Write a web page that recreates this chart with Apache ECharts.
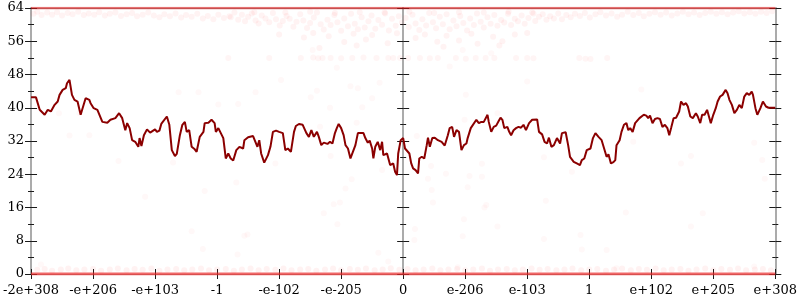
<!DOCTYPE html>
<html><head><meta charset="utf-8">
<script src="https://cdn.jsdelivr.net/npm/echarts@6/dist/echarts.min.js"></script>
<style>html,body{margin:0;padding:0;background:#fff}#c{width:800px;height:300px}</style>
</head><body><div id="c"></div>
<script>
const tickLabels = ['-2e+308','-e+206','-e+103','-1','-e-102','-e-205','0','e-206','e-103','1','e+102','e+205','e+308'];
const yTicks = [0, 8, 16, 24, 32, 40, 48, 56, 64];

const lineX = [-6.00,-5.92,-5.86,-5.78,-5.73,-5.68,-5.62,-5.57,-5.54,-5.49,-5.44,-5.42,-5.38,-5.34,-5.30,-5.25,-5.20,-5.16,-5.12,-5.06,-5.04,-4.99,-4.93,-4.85,-4.77,-4.72,-4.64,-4.58,-4.53,-4.48,-4.45,-4.41,-4.37,-4.32,-4.27,-4.25,-4.22,-4.18,-4.13,-4.08,-4.00,-3.97,-3.93,-3.90,-3.81,-3.77,-3.73,-3.68,-3.65,-3.60,-3.56,-3.52,-3.49,-3.45,-3.41,-3.36,-3.33,-3.28,-3.22,-3.20,-3.14,-3.09,-3.04,-3.02,-2.98,
-2.90,-2.86,-2.82,-2.78,-2.74,-2.69,-2.64,-2.58,-2.56,-2.50,-2.42,-2.40,-2.35,-2.32,-2.29,-2.24,-2.18,-2.14,-2.10,-2.05,-2.00,-1.94,-1.90,-1.86,-1.81,-1.76,-1.73,-1.68,-1.62,-1.60,-1.56,-1.52,-1.48,-1.44,-1.39,-1.36,-1.32,-1.28,-1.22,-1.18,-1.14,-1.10,-1.07,-1.04,-1.00,-0.96,-0.93,-0.89,-0.85,-0.80,-0.77,-0.73,-0.70,-0.64,-0.61,-0.57,-0.54,-0.50,-0.48,-0.45,-0.41,-0.37,-0.34,-0.32,-0.26,-0.21,-0.16,-0.13,-0.10,-0.08,-0.04,0.00,
0.03,0.06,0.10,0.13,0.16,0.20,0.24,0.26,0.30,0.34,0.38,0.40,0.43,0.47,0.51,0.56,0.62,0.67,0.72,0.75,0.79,0.82,0.86,0.90,0.94,0.98,1.02,1.04,1.09,1.12,1.18,1.22,1.26,1.30,1.36,1.38,1.42,1.46,1.50,1.54,1.57,1.60,1.63,1.68,1.71,1.74,1.78,1.82,1.86,1.90,1.94,1.98,2.03,2.08,2.16,2.19,2.24,2.28,2.32,2.35,2.39,2.43,2.48,2.53,2.56,2.62,2.66,2.69,2.72,2.75,2.80,2.85,2.88,2.92,
2.96,3.02,3.06,3.10,3.15,3.20,3.24,3.28,3.31,3.35,3.39,3.42,3.44,3.49,3.52,3.56,3.60,3.63,3.66,3.70,3.74,3.77,3.81,3.84,3.88,3.92,3.95,3.98,4.02,4.06,4.10,4.14,4.18,4.22,4.26,4.29,4.32,4.36,4.40,4.45,4.48,4.52,4.56,4.59,4.63,4.67,4.72,4.75,4.79,4.82,4.86,4.90,4.93,4.96,5.00,5.04,5.07,5.11,5.15,5.20,5.23,5.26,5.30,5.34,5.38,5.42,5.46,5.50,5.54,5.58,5.62,5.64,5.68,5.71,5.74,5.76,5.80,5.85,5.89,6.00];
const lineY = [42.5,42.5,39.5,38.3,39.5,39.1,40.7,41.5,43.1,44.3,44.7,45.9,46.7,43.1,41.9,41.5,38.3,40.3,42.3,41.9,41.1,39.9,39.5,36.6,36.4,37.1,37.5,38.7,37.5,34.6,36.3,35.1,32.2,31.8,30.6,32.7,30.8,33.4,34.8,34.0,34.8,34.2,34.5,36.1,37.9,35.9,29.8,28.4,28.9,33.4,35.9,36.6,34.2,34.6,30.6,30.0,29.4,33.0,34.2,36.3,36.4,37.1,36.3,34.2,35.1,
32.7,27.8,29.0,27.8,27.3,29.8,30.6,30.2,32.2,32.9,33.2,33.4,30.6,32.2,29.0,26.8,28.6,30.6,34.2,34.5,34.2,33.9,29.8,30.2,29.4,34.2,35.6,36.1,35.9,36.1,33.9,33.0,34.6,33.0,34.2,33.0,31.0,31.6,31.3,31.8,31.4,33.9,35.1,36.1,35.1,33.4,31.0,30.2,27.8,29.8,31.0,33.9,34.2,33.9,32.7,31.6,32.1,30.2,27.8,30.6,31.8,29.8,31.8,28.6,29.0,26.2,26.6,24.6,23.8,29.0,32.2,32.7,
30.2,30.6,29.0,26.6,25.4,25.0,24.2,27.8,28.2,27.8,31.0,32.8,30.6,32.7,32.8,32.2,31.8,30.9,33.4,35.1,35.4,33.0,34.6,34.2,29.8,31.0,31.4,32.7,35.1,35.4,37.1,36.3,36.6,36.6,38.3,36.6,34.2,35.4,35.7,36.8,37.6,37.1,35.1,35.4,34.2,33.4,34.6,35.1,35.4,35.2,35.9,34.6,36.3,37.1,37.2,34.2,33.6,31.8,31.4,32.8,30.6,31.0,32.7,31.4,33.9,34.1,31.0,28.2,28.2,27.0,26.6,26.2,27.4,27.8,
29.8,30.2,32.7,33.9,33.0,32.2,30.2,28.2,28.8,26.6,26.9,27.4,31.0,32.2,34.2,35.9,36.3,34.6,35.1,34.2,36.3,36.6,37.5,37.9,38.3,38.1,37.5,38.1,36.3,37.3,37.5,37.3,35.4,35.9,35.1,33.4,35.1,37.5,37.6,39.1,41.5,40.7,41.1,40.3,37.9,37.5,38.7,37.9,36.3,38.3,38.3,39.5,37.9,36.3,38.3,39.9,41.5,42.7,43.1,44.3,43.5,41.9,40.7,38.7,39.5,40.7,39.9,42.7,43.5,43.1,43.9,43.1,39.9,38.3,38.7,39.9,41.5,40.3,40.0,40.0];

const bandX = [-6, 6];
const bandTopY = [64, 64];
const bandBottomY = [0, 0];

const hazeTop = [
[-5.96,62.6],[-5.9,63.1],[-5.83,62.3],[-5.74,62.9],[-5.66,62.4],[-5.58,63.0],[-5.5,62.2],[-5.41,62.8],[-5.33,62.5],[-5.24,63.1],[-5.15,62.3],[-5.07,62.7],[-4.98,62.4],[-4.9,63.0],[-4.81,62.2],[-4.73,62.6],[-4.64,62.9],[-4.55,62.1],[-4.46,62.5],[-4.37,62.8],[-4.29,62.0],[-4.2,62.4],[-4.11,62.9],[-4.02,62.2],[-3.93,61.8],[-3.85,62.5],[-3.76,62.0],[-3.67,62.7],[-3.58,61.7],[-3.5,62.3],[-3.41,61.9],[-3.32,62.6],[-3.23,61.5],[-3.15,62.1],[-3.06,61.3],[-2.98,62.4],[-2.89,61.6],[-2.8,62.0],
[-2.78,61.8],[-2.72,62.9],[-2.66,61.2],[-2.6,62.4],[-2.55,60.8],[-2.5,61.9],[-2.44,62.7],[-2.38,61.0],[-2.33,60.3],[-2.28,62.2],[-2.22,61.5],[-2.16,60.6],[-2.1,62.8],[-2.05,61.3],[-1.99,59.8],[-1.94,60.9],[-1.88,62.1],[-1.83,61.4],[-1.77,59.5],[-1.72,60.7],[-1.66,62.5],[-1.61,61.0],[-1.55,59.2],[-1.5,60.4],[-1.44,61.7],[-1.39,62.9],[-1.33,60.1],[-1.28,58.8],[-1.22,61.2],[-1.17,59.9],[-1.11,62.3],[-1.06,60.6],[-1.0,58.5],[-0.95,61.5],[-0.89,59.6],[-0.84,62.6],[-0.78,60.2],[-0.73,58.9],[-0.67,61.8],[-0.62,59.3],[-0.56,60.8],[-0.51,62.2],[-0.45,59.0],[-0.4,61.1],[-0.34,60.0],[-0.29,62.7],[-0.23,58.6],[-0.18,61.4],[-0.12,59.7],[-0.07,62.0],[-0.02,60.5],
[0.04,61.6],[0.09,59.4],[0.15,62.4],[0.2,60.3],[0.26,58.7],[0.31,61.3],[0.37,59.8],[0.42,62.8],[0.48,60.6],[0.53,59.1],[0.59,61.9],[0.64,60.1],[0.7,62.5],[0.75,58.9],[0.81,61.0],[0.86,59.6],[0.92,62.1],[0.97,60.4],[1.03,58.6],[1.08,61.5],[1.14,59.9],[1.19,62.7],[1.25,60.7],[1.3,59.3],[1.36,61.8],[1.41,60.2],[1.47,62.3],[1.52,59.7],[1.58,61.1],[1.63,60.5],[1.69,62.6],[1.74,59.9],[1.8,61.4],[1.85,60.8],[1.91,62.2],[1.96,60.2],[2.02,61.6],[2.08,62.9],[2.13,60.9],[2.19,61.9],[2.25,62.5],[2.31,61.2],[2.37,62.0],[2.43,61.5],[2.5,62.7],[2.56,61.3],[2.63,62.3],[2.7,61.8],[2.77,62.6],
[-2.4,63.0],[-1.9,62.9],[-1.5,63.1],[-1.1,62.8],[-0.7,63.0],[-0.3,62.9],[0.1,63.1],[0.5,62.8],[0.9,63.0],[1.3,62.9],[1.7,63.1],[2.1,62.7],
[-2.0,57.6],[-1.6,56.9],[-1.45,58.0],[-1.2,57.2],[-0.95,55.8],[-0.8,57.8],[-0.6,56.4],[-0.5,57.5],[-0.25,55.5],[-0.1,57.9],[0.2,56.8],[0.35,57.6],[0.55,55.9],[0.7,57.3],[0.9,56.2],[1.1,57.8],[1.2,55.4],[1.45,57.1],[1.6,56.0],[1.8,57.6],[2.0,58.0],[-1.35,54.4],[0.65,54.7],[1.55,55.0],[-0.75,55.0],
[2.85,62.1],[2.93,62.8],[3.01,61.7],[3.1,62.5],[3.18,63.0],[3.27,62.2],[3.36,62.7],[3.45,61.9],[3.53,62.4],[3.62,63.1],[3.71,62.3],[3.8,62.8],[3.88,62.0],[3.97,62.6],[4.06,63.0],[4.15,62.4],[4.24,62.9],[4.33,62.2],[4.42,62.7],[4.51,63.1],[4.6,62.5],[4.69,62.9],[4.78,62.3],[4.87,62.8],[4.96,63.1],[5.05,62.6],[5.14,63.0],[5.23,62.5],[5.32,62.9],[5.41,63.2],[5.5,62.7],[5.59,63.0],[5.68,62.6],[5.77,63.1],[5.86,62.8],[5.95,63.2]
];

const row52 = [[-2.82,52.0],[-2.16,52.0],[-1.65,52.0],[-1.45,52.1],[-1.37,51.9],[-1.3,52.0],[-1.17,52.0],[-1.0,51.9],[-0.82,52.0],[-0.64,52.1],[-0.43,52.0],[-0.24,52.0],[-0.16,52.0],[-0.05,52.0],[0.08,52.0],[0.27,52.0],[0.43,51.9],[0.56,52.0],[0.85,52.0],[1.01,51.8],[1.17,52.0],[1.33,52.0],[1.47,52.0],[1.82,52.0],[2.0,52.0],[2.1,51.9],[2.84,52.0],[2.94,51.8],[3.02,51.7],[3.29,52.0]];

const hazeBottom = [[-5.9,1.0],[-5.78,1.2],[-5.66,0.8],[-5.52,1.1],[-5.4,1.3],[-5.27,0.9],[-5.14,1.1],[-5.0,1.2],[-4.87,0.8],[-4.73,1.1],[-4.6,1.3],[-4.46,0.9],[-4.33,1.2],[-4.2,1.0],[-4.06,1.3],[-3.93,0.8],[-3.8,1.1],[-3.66,1.2],[-3.53,0.9],[-3.4,1.1],[-3.26,1.3],[-3.13,0.9],[-3.0,1.1],[-2.86,1.2],[-2.73,0.8],[-2.6,1.1],[-2.46,1.3],[-2.33,0.9],[-2.2,1.2],[-2.06,1.0],[-1.93,1.3],[-1.8,0.9],[-1.66,1.1],[-1.53,1.2],[-1.4,0.8],[-1.26,1.1],[-1.13,1.3],[-1.0,0.9],[-0.86,1.2],[-0.73,1.0],[-0.6,1.3],[-0.46,0.9],[-0.33,1.1],[-0.2,1.4],[-0.06,1.0],[0.07,1.2],[0.2,0.9],[0.33,1.1],[0.47,1.3],[0.6,0.9],[0.73,1.1],[0.87,1.2],[1.0,0.9],[1.13,1.1],[1.27,1.3],[1.4,0.8],[1.53,1.1],[1.67,1.2],[1.8,0.9],[1.93,1.1],[2.07,1.3],[2.2,1.0],[2.33,1.2],[2.47,0.9],[2.6,1.1],[2.73,1.3],[2.87,0.9],[3.0,1.1],[3.13,1.2],[3.27,0.8],[3.4,1.1],[3.53,1.3],[3.67,0.9],[3.8,1.2],[3.93,1.0],[4.07,1.3],[4.2,0.9],[4.33,1.1],[4.47,1.2],[4.6,0.8],[4.73,1.1],[4.87,1.3],[5.0,0.9],[5.13,1.2],[5.27,1.0],[5.4,1.3],[5.53,0.9],[5.67,1.1],[5.8,1.2],[5.93,0.9]];

const strayPoints = [[-3.30,43.7],[-2.38,43.7],[-2.66,40.9],[-5.22,38.7],[-5.06,33.4],[-4.59,27.2],[-3.71,26.8],[-2.69,22.0],[-3.20,20.0],[-4.16,18.6],[-3.41,10.3],[-2.51,9.5],[-2.56,9.2],[-3.23,6.0],[-2.67,4.7],[-5.84,2.3],[-2.06,26.6],[-1.17,28.4],[-0.83,22.8],[-0.93,20.6],[-1.02,17.2],[-1.12,16.8],[-1.28,14.6],[-1.06,12.0],[-0.40,5.1],[-0.24,3.0],[0.19,10.8],[0.18,8.2],[0.45,26.0],[0.69,24.1],[1.07,23.6],[1.04,20.9],[0.48,17.2],[0.46,20.2],[1.27,26.5],[1.34,16.6],[1.31,16.0],[0.98,13.2],[0.96,9.1],[1.52,11.4],[0.88,1.6],[2.27,28.1],[2.72,24.6],[2.30,17.6],[2.27,8.4],[2.86,9.4],[2.88,5.9],[3.28,5.8],[3.59,14.8],[4.64,28.4],[4.48,26.6],[4.83,14.6],[4.64,11.4],[5.79,27.4],[5.83,22.9],[5.66,1.8],[3.44,1.4],[-1.97,46.7],[-1.46,53.9],[-1.49,42.5],[-1.39,44.1],[-1.18,40.0],[-1.34,35.4],[-0.85,45.2],[-0.73,44.7],[-0.75,36.4],[-0.38,46.0],[-0.50,42.3],[-1.07,49.6],[0.75,49.9],[0.96,53.9],[1.01,43.1],[2.00,46.3],[1.42,53.1],[3.84,44.4],[5.66,31.6],[3.71,31.8],[-3.62,43.7],[-2.98,40.8],[-5.55,38.7],[-5.38,33.3],[-0.66,40.1],[-0.34,25.0],[0.99,37.1],[0.22,33.2],[0.40,22.9],[1.27,23.4],[1.52,38.7]];

const FONT = 'DejaVu Serif';
const AXIS_GRAY = '#ababab';
const TICK = '#1a1a1a';

function yAxisDef(opts) {
  return Object.assign({
    type: 'value', min: 0, max: 64, interval: 8,
    splitLine: { show: false },
    axisLine: { show: false, onZero: false },
    axisTick: { show: true, length: 6, lineStyle: { color: TICK, width: 1 } },
    minorTick: { show: true, splitNumber: 2, length: 3, lineStyle: { color: TICK, width: 1 } },
    axisLabel: { show: false }
  }, opts);
}

const grayLine = { show: true, lineStyle: { color: AXIS_GRAY, width: 2 } };

const chart = echarts.init(document.getElementById('c'), null, { renderer: 'canvas' });
const xBase = { type: 'value', min: -6, max: 6, interval: 1, splitLine: { show: false } };

chart.setOption({
  animation: false,
  backgroundColor: '#fff',
  grid: { left: 28, right: 22, top: 8, bottom: 26, containLabel: false },
  xAxis: [
    Object.assign({}, xBase, {
      position: 'bottom',
      axisLine: { show: true, onZero: false, lineStyle: { color: AXIS_GRAY, width: 1 } },
      axisTick: { show: true, length: 5, lineStyle: { color: TICK, width: 1 } },
      axisLabel: {
        show: true, margin: 10, fontFamily: FONT, fontSize: 13, color: '#000',
        showMinLabel: true, showMaxLabel: true, hideOverlap: false,
        formatter: v => tickLabels[Math.round(v) + 6]
      }
    }),
    Object.assign({}, xBase, {
      position: 'bottom',
      axisLine: { show: false, onZero: false },
      axisTick: { show: true, inside: true, length: 5, lineStyle: { color: TICK, width: 1 } },
      axisLabel: { show: false }
    }),
    Object.assign({}, xBase, {
      position: 'top',
      axisLine: { show: true, onZero: false, lineStyle: { color: AXIS_GRAY, width: 1 } },
      axisTick: { show: false },
      axisLabel: { show: false }
    })
  ],
  yAxis: [
    yAxisDef({
      position: 'left',
      axisLine: Object.assign({ onZero: false }, grayLine),
      axisLabel: { show: true, margin: 7, fontFamily: FONT, fontSize: 13, color: '#000',
        formatter: v => String(yTicks[Math.round(v / 8)]) }
    }),
    yAxisDef({ position: 'left', axisTick: { show: true, inside: true, length: 6, lineStyle: { color: TICK, width: 1 } } }),
    yAxisDef({ position: 'right', axisLine: Object.assign({ onZero: false }, grayLine) }),
    yAxisDef({ position: 'right', axisTick: { show: true, inside: true, length: 6, lineStyle: { color: TICK, width: 1 } } }),
    yAxisDef({ position: 'left', axisLine: Object.assign({ onZero: true, onZeroAxisIndex: 0 }, grayLine) }),
    yAxisDef({ position: 'left', axisLine: { show: false, onZero: true, onZeroAxisIndex: 0 },
      axisTick: { show: true, inside: true, length: 6, lineStyle: { color: TICK, width: 1 } } })
  ],
  series: [
    { type: 'scatter', silent: true, symbolSize: 6, data: hazeTop,
      itemStyle: { color: 'rgba(255,40,40,0.07)' }, z: 3 },
    { type: 'scatter', silent: true, symbolSize: 6, data: row52,
      itemStyle: { color: 'rgba(255,40,40,0.06)' }, z: 3 },
    { type: 'scatter', silent: true, symbolSize: 6, data: hazeBottom,
      itemStyle: { color: 'rgba(255,40,40,0.08)' }, z: 3 },
    { type: 'scatter', silent: true, symbolSize: 6, data: strayPoints,
      itemStyle: { color: 'rgba(255,40,40,0.04)' }, z: 3 },
    { type: 'line', silent: true, symbol: 'none', data: bandX.map((x, i) => [x, bandTopY[i]]),
      lineStyle: { color: 'rgba(215,20,20,0.6)', width: 2.5 }, z: 4 },
    { type: 'line', silent: true, symbol: 'none', data: bandX.map((x, i) => [x, bandBottomY[i]]),
      lineStyle: { color: 'rgba(235,40,40,0.7)', width: 3 }, z: 4 },
    { type: 'line', silent: true, symbol: 'none', data: lineX.map((x, i) => [x, lineY[i]]),
      lineStyle: { color: '#8b0000', width: 2 }, z: 5 }
  ]
});
</script></body></html>
